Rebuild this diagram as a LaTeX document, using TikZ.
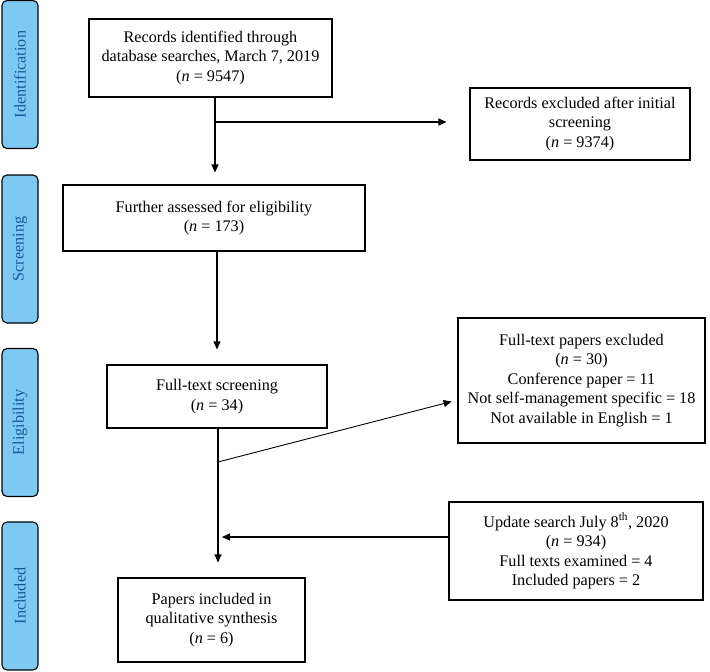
\documentclass[tikz,border=0pt]{standalone}
\usepackage{fontspec}
\setmainfont{Liberation Serif}
\usetikzlibrary{arrows.meta}
\definecolor{sidefill}{RGB}{125,201,242}
\definecolor{sidetext}{RGB}{30,88,155}
\def\nn#1{(\textit{n} = #1)}
\def\arr{\draw[-{Triangle[length=8pt,width=7pt]}]}

\begin{document}
\begin{tikzpicture}[x=1pt,y=-1pt,line width=1.1pt,
                font={\fontsize{16.2pt}{19.5pt}\selectfont},
                box/.style={draw,align=center,inner sep=0pt},
                stage/.style={draw,fill=sidefill,text=sidetext,rounded corners=5pt,rotate=90,
                    minimum width=148pt,minimum height=36pt,inner sep=0pt}]
                \useasboundingbox (0,0) rectangle (710,672);
                \node[stage] (idlab)   at (20,74.5) {Identification};
                \node[stage] (scrlab)  at (20,249)  {Screening};
                \node[stage] (eliglab) at (20,422.5){Eligibility};
                \node[stage] (incllab) at (20,596)  {Included};
                \node[box,minimum width=243pt,minimum height=78pt] (rec) at (210.5,58)
                    {Records identified through\\database searches, March 7, 2019\\\nn{9547}};
                \node[box,minimum width=220pt,minimum height=72pt] (excl) at (580,124)
                    {Records excluded after initial\\screening\\\nn{9374}};
                \node[box,minimum width=302pt,minimum height=66pt] (assess) at (214,218)
                    {Further assessed for eligibility\\\nn{173}};
                \node[box,minimum width=220pt,minimum height=63pt] (ftx) at (217,396.5)
                    {Full-text screening\\\nn{34}};
                \node[box,minimum width=247pt,minimum height=125pt] (ftexcl) at (581.5,380.5)
                    {Full-text papers excluded\\\nn{30}\\Conference paper = 11\\
                     Not self-management specific = 18\\Not available in English = 1};
                \node[box,minimum width=254pt,minimum height=98pt] (upd) at (576,551)
                    {Update search July 8\textsuperscript{th}, 2020\\\nn{934}\\
                     Full texts examined = 4\\Included papers = 2};
                \node[box,minimum width=187pt,minimum height=84pt] (incl) at (211.5,620)
                    {Papers included in\\qualitative synthesis\\\nn{6}};
                \coordinate (j1) at (215,122);
                \coordinate (j2) at (218,462);
                \coordinate (j3) at (218,537);
                \draw (rec.south -| j1) -- (j1);
                \arr[shorten >=12pt] (j1) -- (assess.north -| j1);
                \arr[shorten >=23pt] (j1) -- (excl.west |- j1);
                \arr[shorten >=15pt] (assess.south -| ftx) -- (ftx.north);
                \draw (ftx.south -| j2) -- (j2);
                \arr[line width=0.9pt,shorten >=6pt] (j2) -- ([yshift=-19.5pt]ftexcl.west);
                \arr[shorten >=15pt] (j2) -- (incl.north -| j2);
                \arr[shorten >=4pt] (upd.west |- j3) -- (j3);
            \end{tikzpicture}
\end{document}
